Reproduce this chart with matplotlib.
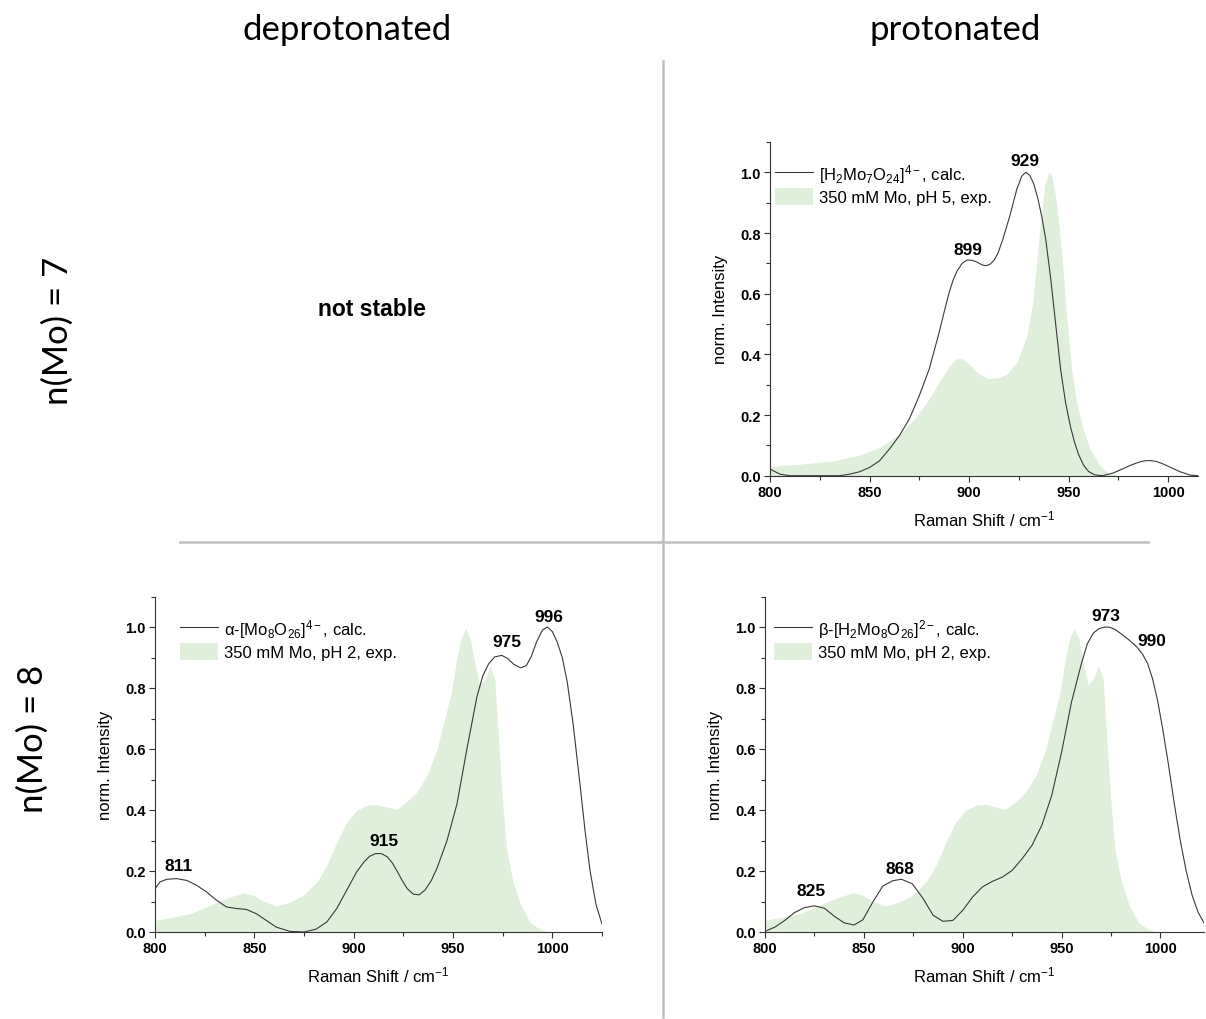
import matplotlib
matplotlib.use('Agg')
import matplotlib.pyplot as plt
import matplotlib.ticker as ticker
from matplotlib.lines import Line2D

plt.rcParams['font.family'] = ['Liberation Sans', 'DejaVu Sans']
plt.rcParams['mathtext.fontset'] = 'custom'
plt.rcParams['mathtext.rm'] = 'Liberation Sans'
plt.rcParams['mathtext.it'] = 'Liberation Sans:italic'
plt.rcParams['mathtext.bf'] = 'Liberation Sans:bold'

# ---- data ----
# n(Mo)=7, protonated
tr_calc_x = [800, 805, 810, 835, 840, 845, 850, 855, 860, 865, 870, 875, 880, 885, 887.5, 890,
             892, 894, 896.5, 899, 901.5, 904, 906.5, 908.5, 910.5, 912.5, 914.5, 917, 920.5, 924,
             926.5, 928.5, 930.5, 932.5, 934.5, 936.5, 938.5, 941, 943.5, 946, 948.5, 951, 953,
             955, 957.5, 960, 963, 967, 972, 977, 981, 985, 988, 991, 994, 997, 1002, 1006, 1011,
             1015]
tr_calc_y = [0.022, 0.005, 0.0, 0.0, 0.005, 0.013, 0.027, 0.049, 0.088, 0.132, 0.187, 0.264,
             0.352, 0.473, 0.540, 0.604, 0.645, 0.675, 0.700, 0.711, 0.710, 0.704, 0.695, 0.692,
             0.697, 0.710, 0.733, 0.780, 0.857, 0.945, 0.988, 1.0, 0.990, 0.962, 0.915, 0.855,
             0.780, 0.650, 0.500, 0.350, 0.240, 0.160, 0.110, 0.070, 0.035, 0.014, 0.003, 0.0,
             0.008, 0.022, 0.034, 0.044, 0.049, 0.050, 0.047, 0.040, 0.025, 0.013, 0.002, 0.0]
tr_exp_x = [800, 815, 832, 845, 855, 865, 874, 880, 885, 890, 893, 895, 897, 899, 904, 909, 914,
            919, 924, 929, 932, 935.5, 938, 940, 941.5, 944, 946.5, 949, 951.5, 954, 957.3, 960.7,
            965.7, 970.7, 976, 1015]
tr_exp_y = [0.031, 0.038, 0.049, 0.068, 0.093, 0.137, 0.198, 0.255, 0.310, 0.360, 0.382, 0.387,
            0.384, 0.374, 0.341, 0.321, 0.322, 0.335, 0.374, 0.462, 0.571, 0.813, 0.956, 1.0,
            0.989, 0.901, 0.736, 0.527, 0.352, 0.242, 0.154, 0.088, 0.033, 0.005, 0.0, 0.0]
tr_peaks = ['929', '899']
tr_peak_x = [928, 899.6]
tr_peak_y = [1.038, 0.747]

# n(Mo)=8, deprotonated (alpha)
bl_calc_x = [800, 802.5, 806, 811, 816, 821, 826, 831, 836, 841, 846, 851, 856, 861, 868, 875, 881,
             886.5, 891.5, 896.5, 901.5, 905, 908, 911, 914, 917, 919.5, 922, 924.5, 927, 930,
             933, 936, 939, 942, 947, 952, 957, 962, 965, 968, 971, 974.5, 977.5, 980.5, 984,
             987, 989.5, 992, 995, 997.5, 1000, 1002.5, 1005, 1007.5, 1010.5, 1014, 1016.5, 1019,
             1022, 1025]
bl_calc_y = [0.142, 0.164, 0.173, 0.175, 0.169, 0.153, 0.131, 0.104, 0.082, 0.077, 0.074, 0.060,
             0.038, 0.016, 0.002, 0.0, 0.009, 0.033, 0.077, 0.137, 0.197, 0.228, 0.248, 0.257,
             0.257, 0.246, 0.226, 0.198, 0.168, 0.142, 0.124, 0.122, 0.138, 0.168, 0.210, 0.300,
             0.420, 0.600, 0.770, 0.840, 0.880, 0.902, 0.907, 0.897, 0.878, 0.866, 0.874, 0.905,
             0.950, 0.990, 1.0, 0.985, 0.950, 0.900, 0.820, 0.680, 0.480, 0.330, 0.200, 0.090,
             0.026]
bl_peaks = ['811', '915', '975', '996']
bl_peak_x = [811.8, 915, 977.2, 998.2]
bl_peak_y = [0.219, 0.30, 0.951, 1.036]

# n(Mo)=8, protonated (beta)
br_calc_x = [800, 805, 810, 815, 820, 825, 830, 835, 840, 845, 849.5, 854.5, 859.5, 864.5, 869,
             874.5, 880, 885, 890, 895, 900, 905, 910, 915, 920, 925, 930, 935, 940, 945, 950,
             955, 960, 963, 966, 969, 972, 974.5, 977, 980, 984, 988, 991, 993.5, 996, 998.5,
             1001, 1004, 1007, 1010, 1013, 1016, 1019, 1022]
br_calc_y = [0.002, 0.016, 0.038, 0.064, 0.080, 0.086, 0.078, 0.052, 0.030, 0.023, 0.040, 0.098,
             0.150, 0.168, 0.173, 0.158, 0.109, 0.055, 0.035, 0.038, 0.071, 0.115, 0.148, 0.166,
             0.180, 0.202, 0.240, 0.284, 0.350, 0.448, 0.590, 0.754, 0.880, 0.945, 0.980, 0.995,
             1.0, 0.999, 0.992, 0.978, 0.958, 0.935, 0.910, 0.880, 0.830, 0.760, 0.670, 0.550,
             0.420, 0.300, 0.200, 0.120, 0.065, 0.030]
br_peaks = ['825', '868', '973', '990']
br_peak_x = [823.5, 868, 972.3, 995.8]
br_peak_y = [0.137, 0.208, 1.038, 0.956]

# experiment, 350 mM Mo, pH 2 (same in both lower panels)
bot_exp_x = [800, 809, 817.5, 824, 831, 838, 844.5, 849.5, 854.5, 861, 868, 874.5, 881.5, 886.5,
             891.5, 896.5, 901.5, 906.5, 911.5, 916.5, 921.5, 926.5, 932, 937, 942, 945, 949, 952,
             954, 956.3, 958.7, 961, 963.5, 966, 968.6, 971, 973, 975, 977, 980, 984, 989, 994,
             999, 1025]
bot_exp_y = [0.038, 0.049, 0.060, 0.077, 0.098, 0.115, 0.129, 0.120, 0.101, 0.085, 0.098, 0.120,
             0.164, 0.219, 0.295, 0.361, 0.399, 0.415, 0.418, 0.410, 0.402, 0.426, 0.460, 0.514,
             0.600, 0.680, 0.780, 0.900, 0.960, 0.996, 0.962, 0.880, 0.810, 0.830, 0.873, 0.830,
             0.620, 0.420, 0.270, 0.170, 0.090, 0.030, 0.008, 0.0, 0.0]

calc_color = '#3a3a3a'
exp_color = '#e0efdc'
W, H = 1206., 1020.


def px_rect(l, r, b, t):
    return [l / W, 1 - b / H, (r - l) / W, (b - t) / H]


def panel(ax, cx, cy, ex, ey, calc_lab, exp_lab, peaks, px, py, xmax, legx):
    f = ax.fill_between(ex, ey, 0, color=exp_color, lw=0, label=exp_lab)
    l, = ax.plot(cx, cy, '-', color=calc_color, lw=0.8, label=calc_lab)
    for s, x, y in zip(peaks, px, py):
        ax.text(x, y, s, ha='center', va='center', fontsize=12.5, fontweight='bold')
    ax.set_xlim(800, xmax)
    ax.set_ylim(0, 1.1)
    ax.xaxis.set_major_locator(ticker.MultipleLocator(50))
    ax.xaxis.set_minor_locator(ticker.MultipleLocator(25))
    ax.yaxis.set_major_locator(ticker.MultipleLocator(0.2))
    ax.yaxis.set_minor_locator(ticker.MultipleLocator(0.1))
    ax.yaxis.set_major_formatter(ticker.FormatStrFormatter('%.1f'))
    for sp in ['top', 'right']:
        ax.spines[sp].set_visible(False)
    for sp in ['left', 'bottom']:
        ax.spines[sp].set_color('#333333')
        ax.spines[sp].set_linewidth(0.8)
    ax.tick_params(which='major', direction='out', length=4, width=0.8, color='#333333', pad=2.5)
    ax.tick_params(which='minor', direction='out', length=3, width=0.8, color='#333333')
    for lab in ax.get_xticklabels() + ax.get_yticklabels():
        lab.set_fontsize(10.5)
        lab.set_fontweight('bold')
    ax.set_xlabel(r'Raman Shift / cm$^{-1}$', fontsize=12, labelpad=7)
    ax.set_ylabel('norm. Intensity', fontsize=12, labelpad=9)
    ax.legend(handles=[l, f], loc='upper left', bbox_to_anchor=(legx, 0.94), frameon=False,
              fontsize=12, handlelength=2.3, handleheight=1.2, handletextpad=0.35,
              labelspacing=0.2, borderpad=0, borderaxespad=0)


fig = plt.figure(figsize=(12.06, 10.2), dpi=100)

ax_tr = fig.add_axes(px_rect(770, 1198, 476.7, 143))
panel(ax_tr, tr_calc_x, tr_calc_y, tr_exp_x, tr_exp_y,
      r'[H$_2$Mo$_7$O$_{24}$]$^{4-}$, calc.', '350 mM Mo, pH 5, exp.',
      tr_peaks, tr_peak_x, tr_peak_y, 1015, 0.012)

ax_bl = fig.add_axes(px_rect(155, 602, 933, 597.5))
panel(ax_bl, bl_calc_x, bl_calc_y, bot_exp_x, bot_exp_y,
      r'α-[Mo$_8$O$_{26}$]$^{4-}$, calc.', '350 mM Mo, pH 2, exp.',
      bl_peaks, bl_peak_x, bl_peak_y, 1025, 0.056)

ax_br = fig.add_axes(px_rect(765, 1204, 933, 597.5))
panel(ax_br, br_calc_x, br_calc_y, bot_exp_x, bot_exp_y,
      r'β-[H$_2$Mo$_8$O$_{26}$]$^{2-}$, calc.', '350 mM Mo, pH 2, exp.',
      br_peaks, br_peak_x, br_peak_y, 1022, 0.0205)

# separators
fig.add_artist(Line2D([663 / W, 663 / W], [1 - 62 / H, 1 - 1018 / H], color='#c0c0c0', lw=1.8))
fig.add_artist(Line2D([180 / W, 1148 / W], [1 - 543 / H, 1 - 543 / H], color='#c0c0c0', lw=1.8))

# column / row headers
fig.text(347 / W, 1 - 30 / H, 'deprotonated', ha='center', va='center', fontsize=25, family='Lato')
fig.text(955 / W, 1 - 30 / H, 'protonated', ha='center', va='center', fontsize=25, family='Lato')
fig.text(58 / W, 1 - 331 / H, 'n(Mo) = 7', rotation=90, ha='center', va='center', fontsize=25,
         family='Lato')
fig.text(33 / W, 1 - 739 / H, 'n(Mo) = 8', rotation=90, ha='center', va='center', fontsize=25,
         family='Lato')
fig.text(372 / W, 1 - 309 / H, 'not stable', ha='center', va='center', fontsize=16.5,
         fontweight='bold')

fig.savefig('out.png', dpi=100)
